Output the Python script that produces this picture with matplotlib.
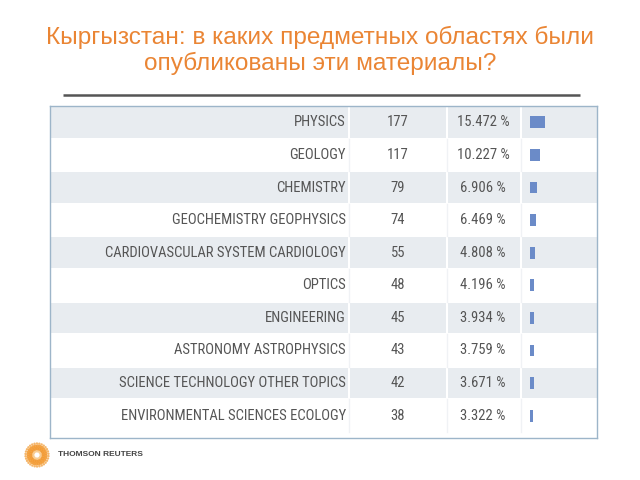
import numpy as np
import matplotlib
matplotlib.use("Agg")
import matplotlib.pyplot as plt
from matplotlib.patches import Rectangle
from matplotlib import font_manager as fm

# ---- data ----
categories = ["PHYSICS", "GEOLOGY", "CHEMISTRY", "GEOCHEMISTRY GEOPHYSICS",
              "CARDIOVASCULAR SYSTEM CARDIOLOGY", "OPTICS", "ENGINEERING",
              "ASTRONOMY ASTROPHYSICS", "SCIENCE TECHNOLOGY OTHER TOPICS",
              "ENVIRONMENTAL SCIENCES ECOLOGY"]
counts = [177, 117, 79, 74, 55, 48, 45, 43, 42, 38]
percents = [15.472, 10.227, 6.906, 6.469, 4.808, 4.196, 3.934, 3.759, 3.671, 3.322]
title = "Кыргызстан: в каких предметных областях были\nопубликованы эти материалы?"

installed = {f.name for f in fm.fontManager.ttflist}
def pick(names):
    return [n for n in names if n in installed] + ["DejaVu Sans"]

W, H = 640, 480
fig = plt.figure(figsize=(6.4, 4.8), dpi=100)
fig.patch.set_facecolor("white")

bg = fig.add_axes([0, 0, 1, 1])
bg.set_xlim(0, W)
bg.set_ylim(H, 0)
bg.axis("off")

title_font = pick(["Arimo", "Liberation Sans"])
bg.text(320, 50, title, ha="center", va="center", fontsize=17.6,
        color="#EA8534", family=title_font, linespacing=1.16)
bg.plot([63, 580], [94.5, 94.5], color="#555555", lw=1.8, solid_capstyle="butt")

tx0, tx1, ty0, ty1 = 50, 597, 106, 438
pitch = 32.6
n = len(categories)
tax = fig.add_axes([tx0 / W, 1 - ty1 / H, (tx1 - tx0) / W, (ty1 - ty0) / H])
tax.set_xlim(tx0, tx1)
tax.set_ylim(-0.5 + (ty1 - ty0) / pitch, -0.5)
tax.set_xticks([]); tax.set_yticks([])
for s in tax.spines.values():
    s.set_color("#9db5c9"); s.set_linewidth(1.0)

cols = [(50, 348), (350, 446), (448, 520), (522, 597)]
shade = "#E8ECF0"
for i in range(n):
    if i % 2 == 0:
        for (a, b) in cols:
            tax.add_patch(Rectangle((a, i - 0.47), b - a, 0.94,
                                    facecolor=shade, edgecolor="none", zorder=0))
    else:
        for (a, b) in cols[1:]:
            tax.plot([a - 1, a - 1], [i - 0.5, i + 0.5], color="#F0F2F5", lw=1, zorder=0)

cell_font = pick(["Liberation Sans Narrow", "Arial Narrow", "Roboto Condensed",
                  "Archivo Narrow", "Barlow Condensed"])
tc = "#555555"
fs = 10.5
for i, (c, k, p) in enumerate(zip(categories, counts, percents)):
    tax.text(346, i, c, ha="right", va="center", fontsize=fs, color=tc, family=cell_font)
    tax.text(398, i, str(k), ha="center", va="center", fontsize=fs, color=tc, family=cell_font)
    tax.text(483, i, f"{p:.3f} %", ha="center", va="center", fontsize=fs, color=tc, family=cell_font)

bax = fig.add_axes([530 / W, 1 - ty1 / H, 60 / W, (ty1 - ty0) / H])
bax.set_xlim(0, 60)
bax.set_ylim(-0.5 + (ty1 - ty0) / pitch, -0.5)
bax.axis("off")
bax.barh(range(n), percents, height=0.36, color="#6B8BC8", left=0)

# logo
cx, cy = 37, 455
for r, cnt, sz, col in [(4.0, 10, 5, "#F8C98A"), (6.5, 18, 7, "#F29A33"),
                        (9.0, 24, 6, "#F39C35"), (11.5, 30, 3, "#F4AE5A")]:
    ang = np.linspace(0, 2 * np.pi, cnt, endpoint=False) + r * 0.3
    bg.scatter(cx + r * np.cos(ang), cy + r * np.sin(ang),
               s=sz, color=col, edgecolors="none", alpha=0.9)
bg.text(58, 454, "THOMSON REUTERS", ha="left", va="center", fontsize=6,
        color="#444444", fontweight="bold", family=pick(["Arimo", "Liberation Sans"]))

fig.savefig("out.png", dpi=100, facecolor="white")
